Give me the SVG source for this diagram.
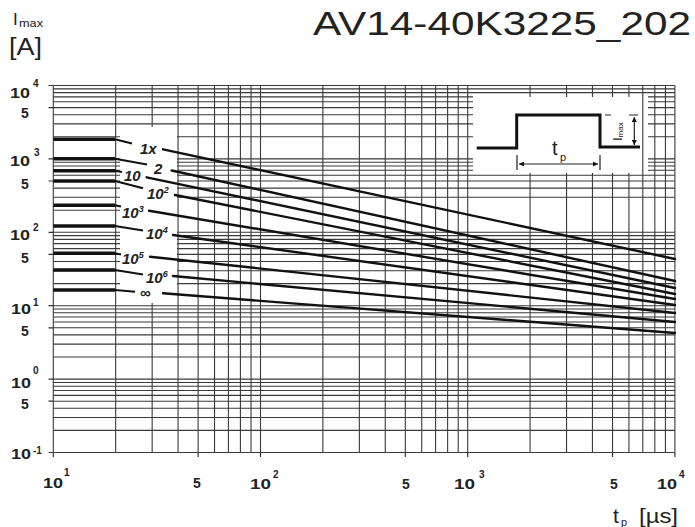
<svg xmlns="http://www.w3.org/2000/svg" width="695" height="527" viewBox="0 0 695 527">
<style>
.grid{fill:none;stroke:#3a3a3a;stroke-width:1.1}
.tick{fill:none;stroke:#333;stroke-width:1.2}
.plat{fill:none;stroke:#111;stroke-width:3.6}
.crv{fill:none;stroke:#111;stroke-width:2.4;stroke-linecap:round}
.lead{fill:none;stroke:#111;stroke-width:2}
.ax{font-family:"Liberation Sans",Arial,sans-serif;font-weight:bold;font-size:14px;fill:#222}
.sup{font-family:"Liberation Sans",Arial,sans-serif;font-weight:bold;font-size:10px;fill:#222}
.lbl{font-family:"Liberation Sans",Arial,sans-serif;font-weight:bold;font-style:italic;font-size:15px;fill:#222}
.lsup{font-size:9px}
.reg{font-family:"Liberation Sans",Arial,sans-serif;fill:#222}
</style>
<defs>
<marker id="ah" viewBox="0 0 10 10" refX="10" refY="5" markerWidth="7" markerHeight="5" orient="auto-start-reverse" markerUnits="userSpaceOnUse"><path d="M0,0L10,5L0,10z" fill="#111"/></marker>
</defs>
<rect width="695" height="527" fill="#fff"/>

<g id="title"><text class="reg" x="313" y="35" font-size="33" textLength="378" lengthAdjust="spacingAndGlyphs" fill="#111">AV14-40K3225_202</text></g>

<g id="y-title">
<text class="reg" x="13" y="25" font-size="17" fill="#333">I</text>
<text class="reg" x="19" y="27" font-size="10" fill="#6b3b2b" textLength="24" lengthAdjust="spacingAndGlyphs">max</text>
<text class="reg" x="9" y="55" font-size="23" fill="#333" textLength="33" lengthAdjust="spacingAndGlyphs">[A]</text>
</g>

<g id="grid">
<path class="grid" d="M53.3 85.5V452.5M115.67 85.5V452.5M152.16 85.5V127M152.16 303V452.5M178.04 85.5V452.5M198.12 85.5V452.5M214.53 85.5V452.5M228.4 85.5V452.5M240.42 85.5V452.5M251.03 85.5V452.5M260.5 85.5V452.5M322.87 85.5V452.5M359.36 85.5V452.5M385.24 85.5V452.5M405.32 85.5V452.5M421.73 85.5V452.5M435.6 85.5V452.5M447.62 85.5V452.5M458.23 85.5V452.5M467.7 85.5V452.5M530.07 85.5V97M530.07 173V452.5M566.56 85.5V97M566.56 173V452.5M592.44 85.5V97M592.44 173V452.5M612.52 85.5V97M612.52 173V452.5M628.93 85.5V97M628.93 173V452.5M642.8 85.5V452.5M654.82 85.5V452.5M665.43 85.5V452.5M674.9 85.5V452.5"/>
<path class="grid" d="M53.3 85.5H674.9M53.3 88.86H674.9M53.3 92.61H674.9M53.3 96.87H473M648 96.87H674.9M53.3 101.78H473M648 101.78H674.9M53.3 107.59H473M648 107.59H674.9M53.3 114.71H473M648 114.71H674.9M53.3 123.88H473M648 123.88H674.9M53.3 136.8H120M177 136.8H473M648 136.8H674.9M53.3 158.9H120M177 158.9H473M648 158.9H674.9M53.3 162.26H120M177 162.26H473M648 162.26H674.9M53.3 166.01H120M177 166.01H473M648 166.01H674.9M53.3 170.27H120M177 170.27H473M648 170.27H674.9M53.3 175.18H120M177 175.18H674.9M53.3 180.99H120M177 180.99H674.9M53.3 188.11H120M177 188.11H674.9M53.3 197.28H120M177 197.28H674.9M53.3 210.2H120M53.3 232.3H120M177 232.3H674.9M53.3 235.66H120M177 235.66H674.9M53.3 239.41H120M177 239.41H674.9M53.3 243.67H120M177 243.67H674.9M53.3 248.58H120M177 248.58H674.9M53.3 254.39H120M177 254.39H674.9M53.3 261.51H120M177 261.51H674.9M53.3 270.68H120M177 270.68H674.9M53.3 283.6H120M177 283.6H674.9M53.3 305.7H674.9M53.3 309.06H674.9M53.3 312.81H674.9M53.3 317.07H674.9M53.3 321.98H674.9M53.3 327.79H674.9M53.3 334.91H674.9M53.3 344.08H674.9M53.3 357H674.9M53.3 379.1H674.9M53.3 382.46H674.9M53.3 386.21H674.9M53.3 390.47H674.9M53.3 395.38H674.9M53.3 401.19H674.9M53.3 408.31H674.9M53.3 417.48H674.9M53.3 430.4H674.9M53.3 452.5H674.9"/>
<path class="tick" d="M48.5 85.5H53.3M48.5 107.59H53.3M48.5 158.9H53.3M48.5 180.99H53.3M48.5 232.3H53.3M48.5 254.39H53.3M48.5 305.7H53.3M48.5 327.79H53.3M48.5 379.1H53.3M48.5 401.19H53.3M48.5 452.5H53.3M53.3 452.5V457M198.12 452.5V457M260.5 452.5V457M405.32 452.5V457M467.7 452.5V457M612.52 452.5V457M674.9 452.5V457"/>
</g>

<g id="y-axis-labels">
<text class="ax" x="10" y="98" textLength="20" lengthAdjust="spacingAndGlyphs">10</text><text class="sup" x="33" y="87">4</text>
<text class="ax" x="21" y="118">5</text>
<text class="ax" x="10" y="166" textLength="20" lengthAdjust="spacingAndGlyphs">10</text><text class="sup" x="34" y="156">3</text>
<text class="ax" x="21" y="189">5</text>
<text class="ax" x="10" y="240" textLength="20" lengthAdjust="spacingAndGlyphs">10</text><text class="sup" x="33" y="231">2</text>
<text class="ax" x="21" y="263">5</text>
<text class="ax" x="11" y="314" textLength="20" lengthAdjust="spacingAndGlyphs">10</text><text class="sup" x="33" y="306">1</text>
<text class="ax" x="21" y="336">5</text>
<text class="ax" x="11" y="388" textLength="20" lengthAdjust="spacingAndGlyphs">10</text><text class="sup" x="33" y="374">0</text>
<text class="ax" x="21" y="409">5</text>
<text class="ax" x="11" y="459" textLength="20" lengthAdjust="spacingAndGlyphs">10</text><text class="sup" x="33" y="454">-1</text>
</g>

<g id="x-axis-labels">
<text class="ax" x="43" y="488" textLength="20" lengthAdjust="spacingAndGlyphs">10</text><text class="sup" x="64" y="476">1</text>
<text class="ax" x="193" y="488">5</text>
<text class="ax" x="250" y="489" textLength="21" lengthAdjust="spacingAndGlyphs">10</text><text class="sup" x="273" y="478">2</text>
<text class="ax" x="402" y="489">5</text>
<text class="ax" x="454" y="489" textLength="21" lengthAdjust="spacingAndGlyphs">10</text><text class="sup" x="479" y="478">3</text>
<text class="ax" x="610" y="489">5</text>
<text class="ax" x="657" y="489" textLength="20" lengthAdjust="spacingAndGlyphs">10</text><text class="sup" x="679" y="478">4</text>
<text class="reg" x="613" y="523" font-size="21">t</text><text class="reg" x="621" y="526" font-size="11">p</text>
<text class="reg" x="639" y="523" font-size="21" textLength="39" lengthAdjust="spacingAndGlyphs">[µs]</text>
</g>

<g id="connectors">
<g id="curve-1x"><path class="plat" d="M53.3 139.3H115"/><path class="lead" d="M115 139.3L132 143.5"/><path class="crv" d="M163 149.3L675 259"/></g>
<g id="curve-2"><path class="plat" d="M53.3 158.7H115"/><path class="lead" d="M115 158.7L147 164.5"/><path class="crv" d="M171.7 170.5L675 281"/></g>
<g id="curve-10"><path class="plat" d="M53.3 170.7H115"/><path class="lead" d="M115 170.7L122 172"/><path class="crv" d="M146.7 177.3L675 288"/></g>
<g id="curve-1e2"><path class="plat" d="M53.3 181H115"/><path class="lead" d="M115 181L143 188.3"/><path class="crv" d="M175 195L675 294"/></g>
<g id="curve-1e3"><path class="plat" d="M53.3 205.3H115"/><path class="lead" d="M115 205.3L121 206.5"/><path class="crv" d="M149 210.7L675 299"/></g>
<g id="curve-1e4"><path class="plat" d="M53.3 226H115"/><path class="lead" d="M115 226L143 230.5"/><path class="crv" d="M173 235L675 305"/></g>
<g id="curve-1e5"><path class="plat" d="M53.3 253.3H115"/><path class="lead" d="M115 253.3L121 254.5"/><path class="crv" d="M150 256.7L675 313"/></g>
<g id="curve-1e6"><path class="plat" d="M53.3 270H115"/><path class="lead" d="M115 270L143 274.5"/><path class="crv" d="M173 276L675 322"/></g>
<g id="curve-inf"><path class="plat" d="M53.3 290H115"/><path class="lead" d="M115 290L135 291.7"/><path class="crv" d="M163 293.3L675 333"/></g>
</g>

<g id="curve-labels">
<text class="lbl" x="140" y="154">1x</text>
<text class="lbl" x="154" y="174">2</text>
<text class="lbl" x="124" y="181">10</text>
<text class="lbl" x="147" y="199">10<tspan class="lsup" dy="-6">2</tspan></text>
<text class="lbl" x="122" y="218">10<tspan class="lsup" dy="-6">3</tspan></text>
<text class="lbl" x="146" y="239">10<tspan class="lsup" dy="-6">4</tspan></text>
<text class="lbl" x="122" y="264">10<tspan class="lsup" dy="-6">5</tspan></text>
<text class="lbl" x="146" y="283">10<tspan class="lsup" dy="-6">6</tspan></text>
<text class="lbl" x="140" y="298" font-size="17">∞</text>
</g>

<g id="inset">
<polyline points="476.7,148 516.7,148 516.7,115 600,115 600,147 640,147" fill="none" stroke="#111" stroke-width="3"/>
<path d="M605 115H611M629 115H638M517 155V170M600 155V170" fill="none" stroke="#222" stroke-width="1.2"/>
<path d="M634.3 117V145" fill="none" stroke="#222" stroke-width="1.2" marker-start="url(#ah)" marker-end="url(#ah)"/>
<path d="M519 164H598" fill="none" stroke="#222" stroke-width="1.2" marker-start="url(#ah)" marker-end="url(#ah)"/>
<text class="reg" x="552" y="155" font-size="20" fill="#333">t</text><text class="reg" x="560" y="161" font-size="11" fill="#333">p</text>
<text class="reg" transform="translate(622,141) rotate(-90)" font-size="13" fill="#222">I<tspan font-size="8" dy="1">max</tspan></text>
</g>
</svg>
